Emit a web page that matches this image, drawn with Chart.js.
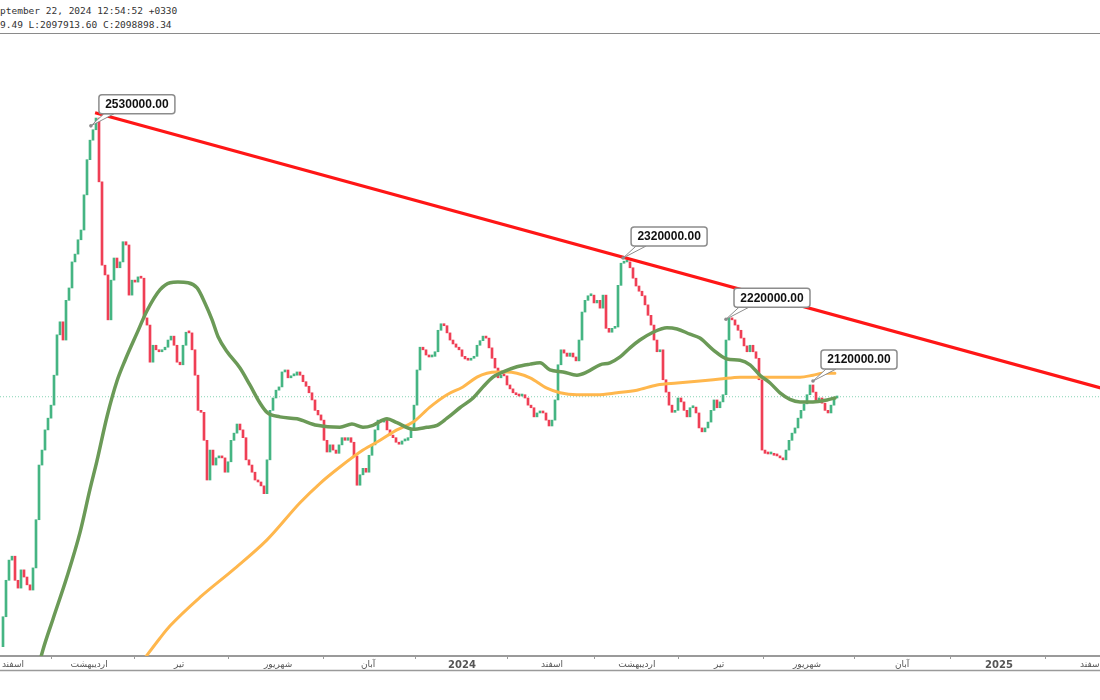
<!DOCTYPE html>
<html lang="fa">
<head>
<meta charset="UTF-8">
<title>Chart</title>
<script src="https://cdn.jsdelivr.net/npm/chart.js"></script>
<style>
  body { margin: 0; background: #fff; overflow: hidden; width: 1100px; height: 700px; position: relative; }
  .head { position: absolute; left: 0; top: 0; width: 1100px; height: 34px; box-sizing: border-box; padding-top: 4px;
          border-bottom: 1px solid #8a8a8a; font-family: 'DejaVu Sans Mono', monospace; font-size: 9.5px; line-height: 14px; color: #333; white-space: pre; }
  .wrap { position: absolute; left: 0; top: 36px; width: 1140px; height: 664px; }
</style>
</head>
<body>
<div class="head">ptember 22, 2024 12:54:52 +0330
9.49 L:2097913.60 C:2098898.34</div>
<div class="wrap"><canvas id="c"></canvas></div>

<script>
// prices in thousands (2530 = 2,530,000)
const firstOpen = 1715;
const closes = [
  1761, 1817, 1848, 1854, 1817, 1805, 1833, 1822, 1810, 1802,
  1836, 1910, 1994, 2017, 2048, 2066, 2086, 2132, 2194, 2214,
  2186, 2247, 2266, 2306, 2318, 2340, 2355, 2409, 2463, 2493,
  2509, 2527, 2429, 2301, 2286, 2217, 2278, 2312, 2297, 2306,
  2337, 2332, 2255, 2278, 2275, 2283, 2281, 2220, 2209, 2152,
  2178, 2171, 2168, 2171, 2175, 2186, 2192, 2178, 2152, 2148,
  2178, 2198, 2197, 2171, 2132, 2078, 2075, 2032, 1971, 2017,
  1994, 2005, 2008, 2005, 1983, 1999, 2032, 2043, 2057, 2048,
  2036, 2002, 1994, 1983, 1971, 1968, 1962, 1950, 2002, 2078,
  2097, 2109, 2114, 2137, 2140, 2128, 2131, 2132, 2137, 2132,
  2122, 2115, 2105, 2094, 2078, 2071, 2063, 2032, 2014, 2025,
  2017, 2012, 2025, 2036, 2032, 2036, 2029, 2008, 1963, 1979,
  1989, 1983, 2009, 2025, 2048, 2063, 2060, 2063, 2048, 2040,
  2036, 2029, 2026, 2031, 2032, 2036, 2048, 2086, 2140, 2175,
  2171, 2163, 2160, 2161, 2168, 2201, 2211, 2208, 2197, 2186,
  2180, 2175, 2171, 2161, 2157, 2155, 2158, 2161, 2178, 2185,
  2192, 2189, 2174, 2158, 2143, 2128, 2132, 2131, 2117, 2111,
  2105, 2102, 2100, 2102, 2097, 2086, 2082, 2068, 2074, 2075,
  2074, 2063, 2054, 2063, 2094, 2148, 2171, 2166, 2161, 2166,
  2160, 2154, 2186, 2229, 2247, 2254, 2255, 2243, 2247, 2235,
  2255, 2204, 2198, 2204, 2206, 2270, 2304, 2306, 2306, 2297,
  2281, 2269, 2261, 2254, 2240, 2224, 2209, 2186, 2168, 2171,
  2125, 2106, 2086, 2075, 2078, 2097, 2091, 2078, 2068, 2082,
  2083, 2074, 2051, 2045, 2051, 2060, 2078, 2094, 2082, 2091,
  2102, 2186, 2220, 2217, 2209, 2201, 2189, 2177, 2168, 2178,
  2168, 2158, 2125, 2017, 2012, 2011, 2012, 2009, 2008, 2005,
  2002, 2017, 2032, 2043, 2051, 2066, 2078, 2088, 2102, 2117,
  2106, 2094, 2097, 2089, 2078, 2074, 2086, 2097, 2100
];

const tickPos = [3.3, 28.7, 58.7, 91.7, 121.7, 153, 183, 211.3, 238.7, 268, 299.7, 332, 362.7];
const tickLabels = ['اسفند', 'اردیبهشت', 'تیر', 'شهریور', 'آبان', '2024', 'اسفند', 'اردیبهشت', 'تیر', 'شهریور', 'آبان', '2025', 'اسفند'];

const fastMaIdx = [11.7, 13.3, 16.7, 21.3, 25.7, 29, 31.3, 34.7, 38, 40.7, 44.7, 48, 52.3, 55.7, 58.3, 61.7, 64.7, 67.3, 69.7, 71.7,
  74.7, 79, 82.3, 85.7, 88, 92.3, 98, 104.7, 112.3, 116.3, 120, 123.3, 128, 131.3, 136.7, 141.3, 144.7, 148, 152.3, 156.7,
  160, 163.3, 166.7, 171.3, 175.7, 179, 182.3, 186.7, 191.3, 194.7, 199, 202.3, 205.7, 209, 212.3, 216.7, 221.3, 224.7, 229, 232.3,
  236.7, 241.3, 245.7, 249, 252.3, 255.7, 259, 262.3, 265.7, 270, 274.7, 277.3];
const fastMa = [1682, 1710, 1758, 1822, 1891, 1957, 2000, 2069, 2123, 2155, 2197, 2231, 2263, 2274, 2275, 2274, 2266, 2243, 2217, 2191,
  2168, 2143, 2117, 2089, 2075, 2068, 2065, 2055, 2052, 2057, 2052, 2055, 2065, 2059, 2049, 2052, 2055, 2066, 2082, 2097,
  2114, 2129, 2137, 2145, 2149, 2151, 2140, 2137, 2132, 2137, 2148, 2151, 2160, 2174, 2186, 2198, 2205, 2203, 2195, 2189,
  2171, 2157, 2155, 2148, 2132, 2120, 2105, 2095, 2091, 2091, 2094, 2097];

const slowMaIdx = [46.7, 52.3, 55.7, 65.7, 76.7, 88, 99, 105.7, 112.3, 120, 125.7, 131.3, 136.7, 142.3, 148, 153.3, 158, 161.3, 164.7, 168,
  171.3, 175.7, 181.3, 185.7, 191.3, 198, 204.7, 211.3, 218, 224.7, 232.3, 239, 245.7, 252.3, 259, 265.7, 270, 273.3, 277.3];
const slowMa = [1694, 1728, 1747, 1791, 1833, 1879, 1936, 1966, 1991, 2017, 2032, 2048, 2060, 2083, 2102, 2114, 2129, 2135, 2137, 2137,
  2135, 2128, 2112, 2105, 2102, 2102, 2105, 2109, 2117, 2120, 2123, 2126, 2129, 2129, 2129, 2129, 2132, 2135, 2135];

const trendIdx = [30.7, 379];
const trendVal = [2535, 2096];
const lastPrice = 2098.9;

const calloutText = ['2530000.00', '2320000.00', '2220000.00', '2120000.00'];
const calloutIdx = [29.3, 206.7, 241, 270];
const calloutVal = [2515, 2312, 2218, 2123];

const UP = '#45b583', DOWN = '#ef3f55';
const opens = closes.map((c, i) => i ? closes[i - 1] : firstOpen);
const candles = closes.map((c, i) => ({ x: i, y: [opens[i], c] }));
const candleColors = closes.map((c, i) => c >= opens[i] ? UP : DOWN);
const pts = (xs, ys) => xs.map((x, i) => ({ x: x, y: ys[i] }));

// price callouts drawn on top of the series
const callouts = {
  id: 'callouts',
  afterDatasetsDraw(chart) {
    const { ctx, scales: { x, y } } = chart;
    ctx.save();
    ctx.font = 'bold 12px "Liberation Sans", Arial, sans-serif';
    ctx.textAlign = 'center';
    ctx.textBaseline = 'middle';
    calloutText.forEach((t, i) => {
      const px = x.getPixelForValue(calloutIdx[i]);
      const py = y.getPixelForValue(calloutVal[i]);
      const left = px + 8, bottom = py - 12, w = 76, h = 19;
      ctx.fillStyle = '#fff';
      ctx.strokeStyle = '#8c8c8c';
      ctx.lineWidth = 1;
      ctx.beginPath();
      ctx.moveTo(px, py);
      ctx.lineTo(left + 5, bottom);
      ctx.lineTo(left + 15, bottom);
      ctx.closePath();
      ctx.fill(); ctx.stroke();
      ctx.lineWidth = 1.5;
      ctx.beginPath();
      ctx.roundRect(left, bottom - h, w, h, 3);
      ctx.fill(); ctx.stroke();
      ctx.fillStyle = '#8c8c8c';
      ctx.beginPath(); ctx.arc(px, py, 1.8, 0, Math.PI * 2); ctx.fill();
      ctx.fillStyle = '#111';
      ctx.fillText(t, left + w / 2, bottom - h / 2 + 0.5);
    });
    ctx.restore();
  }
};

// lower frame line under the time axis
const axisFrame = {
  id: 'axisFrame',
  afterDraw(chart) {
    const { ctx, scales: { x } } = chart;
    ctx.save();
    ctx.strokeStyle = '#9a9a9a';
    ctx.lineWidth = 1.5;
    ctx.beginPath();
    ctx.moveTo(0, x.bottom - 0.5);
    ctx.lineTo(chart.width, x.bottom - 0.5);
    ctx.stroke();
    ctx.restore();
  }
};

new Chart(document.getElementById('c'), {
  type: 'bar',
  data: {
    datasets: [
      { type: 'line', data: pts([-1, 379], [lastPrice, lastPrice]), borderColor: '#86d3b3', borderWidth: 1,
        borderDash: [1, 2], pointRadius: 0, order: 5 },
      { type: 'bar', data: candles, backgroundColor: candleColors, barThickness: 2, minBarLength: 2,
        borderWidth: 0, order: 4 },
      { type: 'line', data: pts(slowMaIdx, slowMa), borderColor: '#ffb74d', borderWidth: 3, pointRadius: 0,
        cubicInterpolationMode: 'monotone', borderCapStyle: 'round', order: 3 },
      { type: 'line', data: pts(fastMaIdx, fastMa), borderColor: '#6b9a57', borderWidth: 3.5, pointRadius: 0,
        cubicInterpolationMode: 'monotone', borderCapStyle: 'round', order: 2 },
      { type: 'line', data: pts(trendIdx, trendVal), borderColor: '#ff1616', borderWidth: 3.2, pointRadius: 0, order: 1 }
    ]
  },
  options: {
    responsive: true,
    maintainAspectRatio: false,
    animation: false,
    layout: { padding: { left: 0, right: 0, top: 0, bottom: 29 } },
    plugins: { legend: { display: false }, tooltip: { enabled: false } },
    scales: {
      x: {
        type: 'linear', min: -1, max: 379, offset: false,
        afterBuildTicks: s => { s.ticks = tickPos.map(v => ({ value: v })); },
        afterFit: s => { s.height = 15; },
        border: { display: true, color: '#9a9a9a', width: 2 },
        grid: { drawOnChartArea: false, drawTicks: true, tickLength: 3, color: '#9a9a9a' },
        ticks: {
          autoSkip: false, maxRotation: 0, padding: 0, color: '#555',
          font: c => /^\d+$/.test(tickLabels[c.index] || '') ? { family: 'DejaVu Sans', size: 10, weight: 'bold' } : { family: 'DejaVu Sans', size: 9 },
          callback: (v, i) => tickLabels[i]
        }
      },
      y: { display: false, min: 1700.7, max: 2653 }
    }
  },
  plugins: [callouts, axisFrame]
});
</script>
</body>
</html>
